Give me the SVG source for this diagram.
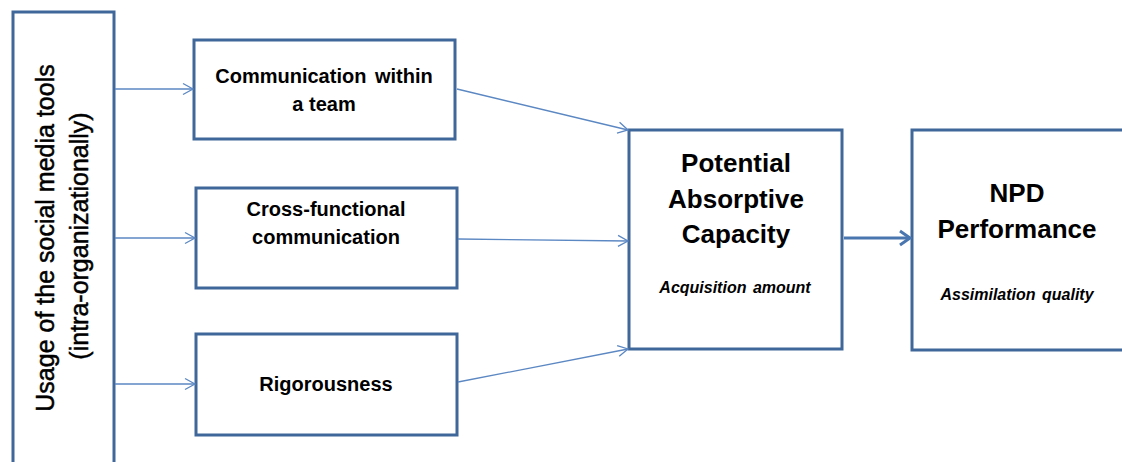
<svg xmlns="http://www.w3.org/2000/svg" width="1122" height="462" viewBox="0 0 1122 462">
  <style>
    .box { fill: #ffffff; stroke: #40679a; stroke-width: 3; }
    .lbl { font-family: "Liberation Sans", Arial, sans-serif; font-weight: bold; fill: #000000; text-anchor: middle; }
    .big { font-size: 26px; }
    .mid { font-size: 20px; }
    .sub { font-size: 16px; font-style: italic; word-spacing: 2px; }
    .side { font-family: "Liberation Sans", Arial, sans-serif; font-size: 25px; fill: #000000; stroke: #000000; stroke-width: 0.5; text-anchor: middle; }
    .link { fill: none; stroke: #5b87c2; stroke-width: 1.3; }
    .link-main { fill: none; stroke: #4a76b0; stroke-width: 3; }
  </style>
  <defs>
    <marker id="open" markerUnits="userSpaceOnUse" markerWidth="14" markerHeight="14" refX="11" refY="7" orient="auto">
      <path d="M1,1.5 L11,7 L1,12.5" fill="none" stroke="#5b87c2" stroke-width="1.3"/>
    </marker>
    <marker id="open-main" markerUnits="userSpaceOnUse" markerWidth="16" markerHeight="18" refX="13" refY="9" orient="auto">
      <path d="M3,2 L13,9 L3,16" fill="none" stroke="#4a76b0" stroke-width="3"/>
    </marker>
  </defs>

  <rect width="1122" height="462" fill="#ffffff"/>

  <g id="usage">
    <rect class="box" x="13" y="12" width="101" height="470"/>
    <text class="side" transform="translate(54,238) rotate(-90)">Usage of the social media tools</text>
    <text class="side" transform="translate(88,236) rotate(-90)">(intra-organizationally)</text>
  </g>

  <g id="team">
    <rect class="box" x="194" y="40" width="261" height="99"/>
    <text class="lbl mid" x="324" y="83" word-spacing="3">Communication within</text>
    <text class="lbl mid" x="324" y="111">a team</text>
  </g>

  <g id="cross">
    <rect class="box" x="196" y="188" width="261" height="100"/>
    <text class="lbl mid" x="326" y="216">Cross-functional</text>
    <text class="lbl mid" x="326" y="244">communication</text>
  </g>

  <g id="rigor">
    <rect class="box" x="196" y="334" width="261" height="101"/>
    <text class="lbl mid" x="326" y="391">Rigorousness</text>
  </g>

  <g id="pac">
    <rect class="box" x="629" y="130" width="213" height="219"/>
    <text class="lbl big" x="736" y="172">Potential</text>
    <text class="lbl big" x="736" y="208">Absorptive</text>
    <text class="lbl big" x="736" y="243">Capacity</text>
    <text class="lbl sub" x="735" y="293">Acquisition amount</text>
  </g>

  <g id="npd">
    <rect class="box" x="912" y="130" width="215" height="220"/>
    <text class="lbl big" x="1017" y="202">NPD</text>
    <text class="lbl big" x="1017" y="238">Performance</text>
    <text class="lbl sub" x="1017" y="300">Assimilation quality</text>
  </g>

  <g id="connectors">
    <line class="link" x1="115" y1="89" x2="193" y2="89" marker-end="url(#open)"/>
    <line class="link" x1="115" y1="238" x2="195" y2="238" marker-end="url(#open)"/>
    <line class="link" x1="115" y1="384" x2="195" y2="384" marker-end="url(#open)"/>
    <line class="link" x1="457" y1="89" x2="628" y2="130" marker-end="url(#open)"/>
    <line class="link" x1="458" y1="239" x2="628" y2="241" marker-end="url(#open)"/>
    <line class="link" x1="458" y1="382" x2="628" y2="349" marker-end="url(#open)"/>
    <line class="link-main" x1="844" y1="238" x2="910" y2="238" marker-end="url(#open-main)"/>
  </g>
</svg>
